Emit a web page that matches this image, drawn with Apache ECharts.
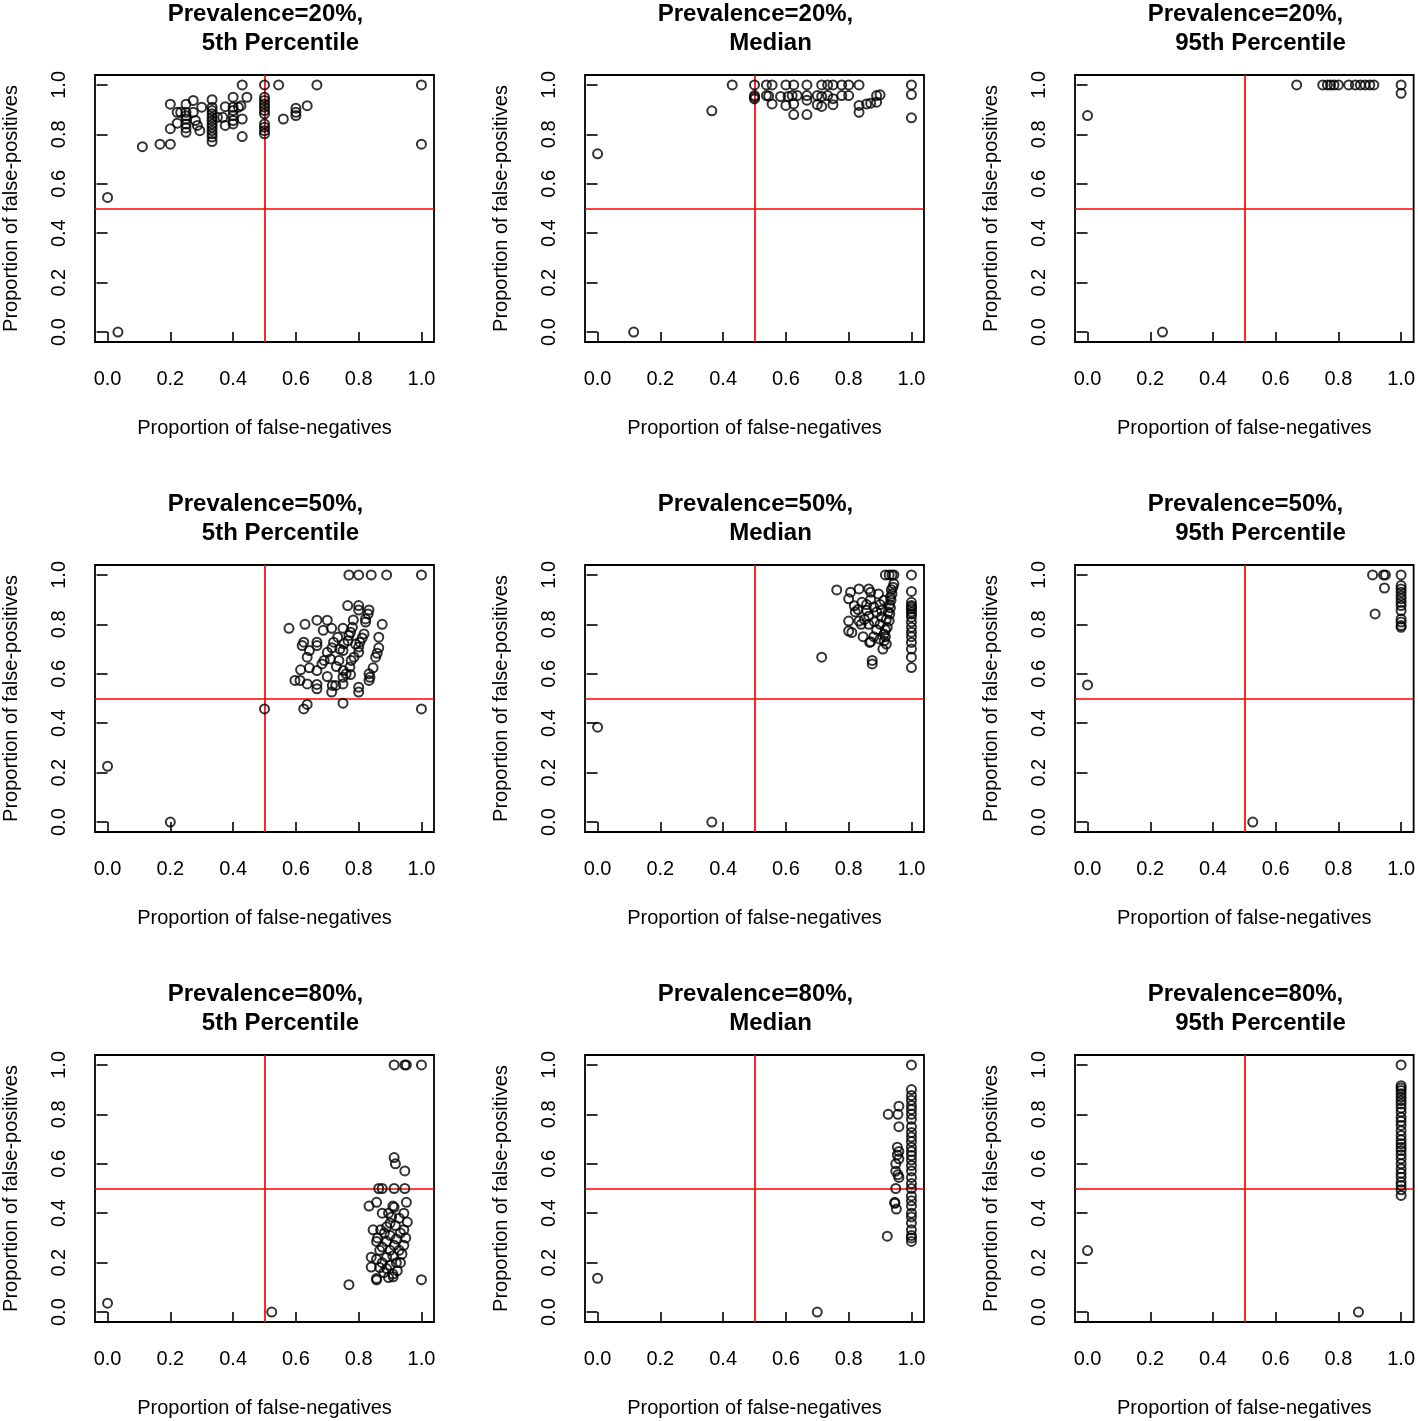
<!DOCTYPE html>
<html><head><meta charset="utf-8">
<script src="https://cdn.jsdelivr.net/npm/echarts@6/dist/echarts.min.js"></script>
<style>html,body{margin:0;padding:0;background:#fff}#c{width:1418px;height:1421px}</style>
</head><body><div id="c"></div><script>
const prevalences = ['20%', '50%', '80%'];
const percentiles = ['5th Percentile', 'Median', '95th Percentile'];
const tickValues = [0, 0.2, 0.4, 0.6, 0.8, 1.0];
const xTitle = 'Proportion of false-negatives';
const yTitle = 'Proportion of false-positives';
const cutoffX = 0.5, cutoffY = 0.5;

const p20_p5 = [[0.0,0.545],[0.033,0.0],[0.111,0.75],[0.167,0.76],[0.2,0.76],[0.2,0.823],[0.2,0.922],
[0.222,0.889],[0.222,0.845],[0.233,0.889],[0.25,0.922],[0.25,0.889],[0.25,0.875],[0.25,0.862],[0.25,0.842],[0.25,0.826],[0.25,0.808],
[0.273,0.937],[0.273,0.889],[0.28,0.856],[0.286,0.836],[0.3,0.91],[0.294,0.815],
[0.333,0.94],[0.333,0.91],[0.333,0.896],[0.333,0.883],[0.333,0.869],[0.333,0.856],[0.333,0.842],[0.333,0.829],[0.333,0.815],[0.333,0.802],[0.333,0.789],[0.333,0.771],
[0.35,0.869],[0.375,0.912],[0.375,0.836],[0.367,0.869],[0.4,0.95],[0.4,0.91],[0.4,0.896],[0.4,0.876],[0.4,0.856],[0.4,0.842],[0.417,0.91],[0.425,0.916],[0.429,1.0],[0.429,0.862],[0.429,0.791],[0.444,0.95],
[0.5,1.0],[0.5,0.95],[0.5,0.937],[0.5,0.923],[0.5,0.91],[0.5,0.896],[0.5,0.883],[0.5,0.842],[0.5,0.829],[0.5,0.815],[0.5,0.802],
[0.545,1.0],[0.56,0.862],[0.6,0.906],[0.6,0.889],[0.6,0.876],[0.636,0.916],[0.667,1.0],[1.0,1.0],[1.0,0.76]];

const p20_med = [[0.0,0.721],[0.115,0.0],[0.364,0.895],[0.429,1.0],
[0.5,1.0],[0.5,0.957],[0.5,0.95],[0.5,0.943],
[0.538,1.0],[0.556,1.0],[0.538,0.957],[0.545,0.955],[0.556,0.923],[0.583,0.953],[0.6,1.0],[0.6,0.917],[0.607,0.953],[0.625,1.0],[0.62,0.957],[0.625,0.923],[0.625,0.88],[0.636,0.957],[0.667,1.0],[0.667,0.957],[0.667,0.938],[0.667,0.88],[0.7,0.957],[0.7,0.92],[0.714,1.0],[0.714,0.953],[0.714,0.913],[0.733,1.0],[0.75,1.0],[0.733,0.957],[0.75,0.944],[0.75,0.92],[0.778,1.0],[0.8,1.0],[0.778,0.957],[0.8,0.957],[0.833,1.0],[0.833,0.917],[0.833,0.889],[0.857,0.923],[0.87,0.926],[0.889,0.93],[0.889,0.957],[0.9,0.96],[1.0,1.0],[1.0,0.961],[1.0,0.867]];

const p20_p95 = [[0.0,0.876],[0.239,0.0],[0.667,1.0],[0.75,1.0],[0.765,1.0],[0.775,1.0],[0.786,1.0],[0.8,1.0],[0.833,1.0],[0.854,1.0],[0.87,1.0],[0.885,1.0],[0.9,1.0],[0.913,1.0],[1.0,1.0],[1.0,0.966]];

const p50_p5 = [[0.0,0.226],[0.2,0.0],[0.5,0.458],[0.625,0.458],[0.636,0.476],[0.75,0.481],[1.0,0.458],
[0.769,1.0],[0.8,1.0],[0.84,1.0],[0.889,1.0],[1.0,1.0],
[0.578,0.784],[0.629,0.8],[0.667,0.817],[0.7,0.817],[0.687,0.776],[0.714,0.784],[0.75,0.784],[0.765,0.876],[0.8,0.876],[0.8,0.858],[0.833,0.858],[0.83,0.842],[0.822,0.822],[0.822,0.809],[0.783,0.818],[0.78,0.788],[0.774,0.768],
[0.733,0.748],[0.72,0.728],[0.715,0.705],[0.7,0.687],[0.69,0.654],[0.683,0.64],[0.667,0.613],[0.643,0.624],[0.615,0.616],[0.625,0.728],[0.62,0.714],[0.667,0.728],[0.667,0.714],[0.643,0.694],[0.636,0.667],
[0.597,0.573],[0.613,0.573],[0.636,0.559],[0.667,0.557],[0.667,0.539],[0.7,0.589],[0.716,0.553],[0.714,0.526],[0.727,0.553],[0.75,0.559],[0.75,0.586],[0.751,0.613],[0.729,0.629],[0.737,0.654],[0.75,0.694],[0.753,0.721],[0.766,0.734],[0.769,0.755],
[0.772,0.627],[0.776,0.654],[0.785,0.667],[0.8,0.687],[0.8,0.708],[0.804,0.728],[0.811,0.745],[0.817,0.761],[0.8,0.546],[0.8,0.526],[0.833,0.6],[0.833,0.573],[0.836,0.586],[0.846,0.624],[0.854,0.667],[0.859,0.683],[0.864,0.705],[0.864,0.748],[0.875,0.8],[0.774,0.597],[0.76,0.6],[0.79,0.72],[0.71,0.66],[0.74,0.7]];

const p50_med = [[0.0,0.384],[0.364,0.0],[0.714,0.667],[0.875,0.654],[0.875,0.64],[0.762,0.939],
[1,1.0],[1,0.933],[1,0.889],[1,0.876],[1,0.862],[1,0.842],[1,0.829],[1,0.809],[1,0.788],[1,0.768],[1,0.75],[1,0.727],[1,0.7],[1,0.667],[1,0.625],[1,0.87],[1,0.85],
[0.917,1.0],[0.929,1.0],[0.938,1.0],[0.944,1.0],
[0.806,0.93],[0.833,0.943],[0.864,0.943],[0.87,0.93],[0.895,0.923],[0.8,0.903],[0.818,0.875],[0.842,0.889],[0.821,0.85],[0.8,0.813],[0.833,0.813],[0.864,0.833],[0.864,0.8],[0.88,0.87],[0.889,0.85],[0.8,0.773],[0.81,0.767],[0.846,0.75],[0.867,0.727],[0.889,0.778],[0.909,0.7],[0.913,0.733],[0.917,0.75],[0.923,0.788],[0.929,0.815],[0.931,0.842],[0.933,0.867],[0.935,0.897],[0.938,0.923],[0.941,0.95],[0.944,0.964],[0.912,0.897],[0.905,0.857],[0.9,0.8],[0.88,0.75],[0.87,0.73],[0.917,0.778],[0.92,0.82],[0.926,0.85],[0.93,0.88],[0.933,0.91],[0.936,0.94],[0.857,0.857],[0.85,0.82],[0.87,0.9],[0.9,0.88],[0.905,0.83],[0.882,0.81],[0.913,0.76],[0.92,0.72],[0.9,0.74],[0.857,0.88],[0.83,0.86],[0.84,0.8]];

const p50_p95 = [[0.0,0.555],[0.527,0.0],[0.909,1.0],[0.944,1.0],[0.95,1.0],[0.947,0.947],[0.917,0.842],[1.0,1.0],[1.0,0.957],[1.0,0.943],[1.0,0.93],[1.0,0.916],[1.0,0.903],[1.0,0.889],[1.0,0.876],[1.0,0.856],[1.0,0.822],[1.0,0.809],[1.0,0.795],[1.0,0.788]];

const p80_p5 = [[0.0,0.036],[0.523,0.0],[0.769,0.111],[1.0,0.131],
[0.913,1.0],[0.947,1.0],[0.952,1.0],[1.0,1.0],
[0.913,0.625],[0.917,0.6],[0.947,0.571],
[0.864,0.5],[0.875,0.5],[0.913,0.5],[0.947,0.5],
[0.833,0.429],[0.857,0.444],[0.952,0.444],[0.909,0.429],[0.913,0.424],
[0.875,0.4],[0.895,0.4],[0.944,0.4],[0.905,0.385],[0.929,0.38],
[0.955,0.364],[0.9,0.36],[0.917,0.35],[0.889,0.345],[0.846,0.333],[0.87,0.333],[0.944,0.333],[0.933,0.32],[0.882,0.32],[0.9,0.31],
[0.86,0.3],[0.95,0.3],[0.92,0.296],[0.889,0.286],[0.857,0.286],[0.944,0.27],[0.913,0.27],[0.875,0.263],[0.9,0.25],[0.929,0.25],[0.867,0.25],
[0.84,0.222],[0.889,0.222],[0.938,0.235],[0.909,0.227],[0.857,0.214],[0.92,0.2],[0.933,0.2],[0.875,0.2],[0.9,0.19],[0.84,0.182],[0.867,0.18],[0.889,0.176],[0.923,0.167],[0.909,0.154],[0.88,0.16],[0.895,0.14],[0.857,0.13],[0.857,0.136],[0.91,0.143]];

const p80_med = [[0.0,0.137],[0.7,0.0],[0.923,0.307],
[1,1.0],[1,0.9],[1,0.876],[1,0.857],[1,0.836],[1,0.8],[1,0.75],[1,0.727],[1,0.708],[1,0.667],[1,0.633],[1,0.615],[1,0.593],[1,0.571],[1,0.545],[1,0.5],[1,0.45],[1,0.429],[1,0.4],[1,0.385],[1,0.36],[1,0.333],[1,0.3],[1,0.286],[1,0.82],[1,0.78],[1,0.69],[1,0.65],[1,0.52],[1,0.47],[1,0.31],
[0.96,0.833],[0.926,0.8],[0.957,0.8],[0.96,0.75],[0.955,0.667],[0.96,0.65],[0.955,0.636],[0.96,0.62],[0.95,0.6],[0.95,0.57],[0.957,0.556],[0.96,0.545],[0.95,0.5],[0.947,0.444],[0.947,0.44],[0.952,0.417]];

const p80_p95 = [[0.0,0.249],[0.864,0.0],[1,1.0],[1,0.916],[1,0.907],[1,0.896],[1,0.883],[1,0.869],[1,0.856],[1,0.842],[1,0.826],[1,0.809],[1,0.788],[1,0.772],[1,0.755],[1,0.734],[1,0.714],[1,0.697],[1,0.681],[1,0.667],[1,0.654],[1,0.637],[1,0.62],[1,0.6],[1,0.58],[1,0.562],[1,0.546],[1,0.526],[1,0.512],[1,0.495],[1,0.472]];

const panels = [[p20_p5, p20_med, p20_p95], [p50_p5, p50_med, p50_p95], [p80_p5, p80_med, p80_p95]];

const FONT = '"Liberation Sans", Arial, Helvetica, sans-serif';
const colLeft = [95, 585, 1075], rowTop = [75, 565, 1055], W = 339, H = 267;
const grid = [], xAxis = [], yAxis = [], series = [], title = [];
let k = 0;
for (let r = 0; r < 3; r++) {
  for (let c = 0; c < 3; c++) {
    const cx = colLeft[c] + W / 2;
    title.push({ text: 'Prevalence=' + prevalences[r] + ',', left: cx - 4, top: rowTop[r] - 78, textAlign: 'center',
      textStyle: { fontFamily: FONT, fontSize: 24, fontWeight: 'bold', color: '#000' } });
    title.push({ text: percentiles[c], left: cx + 11, top: rowTop[r] - 49, textAlign: 'center',
      textStyle: { fontFamily: FONT, fontSize: 24, fontWeight: 'bold', color: '#000' } });
    grid.push({ left: colLeft[c], top: rowTop[r], width: W, height: H, show: true, borderColor: '#000', borderWidth: 1.8, backgroundColor: 'transparent' });
    const axCommon = {
      gridIndex: k, type: 'value', min: -0.04, max: 1.04,
      axisLine: { show: false }, splitLine: { show: false },
      axisTick: { show: true, inside: false, length: 11, customValues: tickValues, lineStyle: { color: '#000', width: 1.6 } },
      nameLocation: 'middle',
      nameTextStyle: { fontFamily: FONT, fontSize: 20, color: '#000' }
    };
    xAxis.push(Object.assign({}, axCommon, {
      position: 'bottom', name: xTitle, nameGap: 76,
      axisLabel: { customValues: tickValues, margin: 27, fontFamily: FONT, fontSize: 20, color: '#000', formatter: v => v.toFixed(1) }
    }));
    yAxis.push(Object.assign({}, axCommon, {
      position: 'left', name: yTitle, nameGap: 74, nameRotate: 90,
      axisLabel: { customValues: tickValues, margin: 26, rotate: 90, fontFamily: FONT, fontSize: 20, color: '#000', formatter: v => v.toFixed(1) }
    }));
    series.push({
      type: 'scatter', xAxisIndex: k, yAxisIndex: k, data: panels[r][c],
      symbol: 'circle', symbolSize: 9,
      itemStyle: { color: 'rgba(0,0,0,0)', borderColor: '#000', borderWidth: 2 },
      emphasis: { disabled: true }, silent: true, z: 3,
      markLine: { silent: true, symbol: ['none', 'none'], label: { show: false }, animation: false, z: 2,
        lineStyle: { color: '#ff0000', width: 1.7, type: 'solid' },
        emphasis: { disabled: true },
        data: [{ xAxis: cutoffX }, { yAxis: cutoffY }] }
    });
    k++;
  }
}
const chart = echarts.init(document.getElementById('c'), null, { renderer: 'canvas' });
chart.setOption({ animation: false, backgroundColor: '#fff', title, grid, xAxis, yAxis, series });
</script></body></html>
